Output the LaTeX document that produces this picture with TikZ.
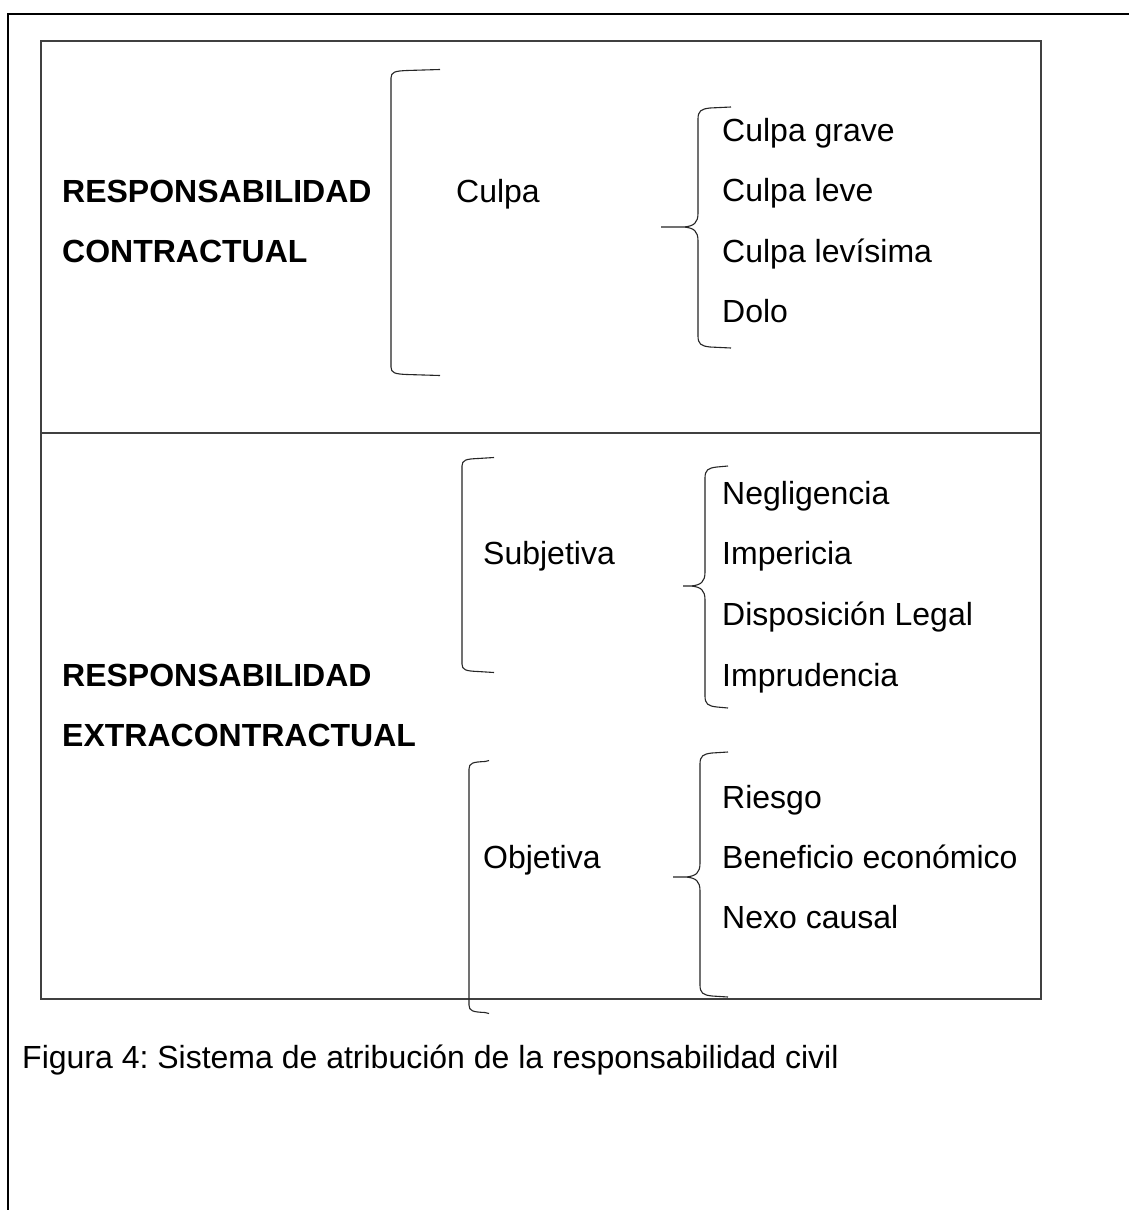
\documentclass[tikz,border=0pt]{standalone}
\usepackage{fontspec}
\setmainfont{Liberation Sans}
\frenchspacing
\newcommand{\SqBr}[4]{% x, top, bottom, arm end x
  \draw[brk] (#4,{#2-3.5}) -- ({#1+16},{#2-2.5}) .. controls ({#1+4},{#2-2}) and (#1,{#2-1}) .. (#1,{#2+5})
    -- (#1,{#3-5}) .. controls (#1,{#3+1}) and ({#1+4},{#3+2}) .. ({#1+16},{#3+2.5}) -- (#4,{#3+3.5});}
\newcommand{\CrBr}[6]{% x, top, mid, bottom, arm end x, tip x
  \draw[brk] (#5,{#2-4}) -- ({#1+12},{#2-3}) .. controls ({#1+3},{#2-2}) and (#1,{#2}) .. (#1,{#2+8})
    -- (#1,{#3-14}) .. controls (#1,{#3-4}) and ({#1-4},{#3-1}) .. ({#1-14},#3) -- (#6,#3)
    -- ({#1-14},#3) .. controls ({#1-4},{#3+1}) and (#1,{#3+4}) .. (#1,{#3+14})
    -- (#1,{#4-8}) .. controls (#1,#4) and ({#1+3},{#4+2}) .. ({#1+12},{#4+3}) -- (#5,{#4+4});}
\begin{document}
\begin{tikzpicture}[x=1pt,y=-1pt,
  brk/.style={line width=1.1pt,draw=black!85},
  txt/.style={anchor=base west,inner sep=0pt,font=\fontsize{32}{38}\selectfont},
  hd/.style={txt,font=\fontsize{32}{38}\selectfont\bfseries}]
\useasboundingbox (0,0) rectangle (1128,1210);
\fill[white] (0,0) rectangle (1128,1210);
% outer frame (cropped)
\draw[line width=2.6pt,black] (8,1212) -- (8,14) -- (1130,14);
% inner box
\node[draw=black!75,line width=1.5pt,inner sep=0pt,minimum width=1000pt,minimum height=958pt,anchor=north west] (box) at (40,40) {};
\draw[draw=black!75,line width=1.3pt] (40,433) -- (1040,433);
% headings
\node[hd] (rc1) at (62,202) {RESPONSABILIDAD};
\node[hd] (rc2) at (62,262) {CONTRACTUAL};
\node[hd] (re1) at (62,686) {RESPONSABILIDAD};
\node[hd] (re2) at (62,746) {EXTRACONTRACTUAL};
% middle column
\node[txt] (culpa) at (456,202) {Culpa};
\node[txt] (subj) at (483,564.5) {Subjetiva};
\node[txt] (obj) at (483,868) {Objetiva};
% right column
\node[txt] (c1) at (722,141.5) {Culpa grave};
\node[txt] (c2) at (722,201.5) {Culpa leve};
\node[txt] (c3) at (722,262) {Culpa levísima};
\node[txt] (c4) at (722,322) {Dolo};
\node[txt] (s1) at (722,504.5) {Negligencia};
\node[txt] (s2) at (722,564.5) {Impericia};
\node[txt] (s3) at (722,625) {Disposición Legal};
\node[txt] (s4) at (722,686) {Imprudencia};
\node[txt] (o1) at (722,808) {Riesgo};
\node[txt] (o2) at (722,868) {Beneficio económico};
\node[txt] (o3) at (722,928) {Nexo causal};
% caption
\node[txt] (cap) at (22,1068) {Figura 4: Sistema de atribución de la responsabilidad civil};
% brackets
\SqBr{391}{73}{372}{440}
\CrBr{698}{111}{227}{344}{731}{661}
\SqBr{462}{461}{669}{494}
\CrBr{705}{470}{586}{704}{728}{683}
\SqBr{469}{764}{1010}{489}
\CrBr{700}{756}{877}{993}{728}{673}
\end{tikzpicture}
\end{document}
